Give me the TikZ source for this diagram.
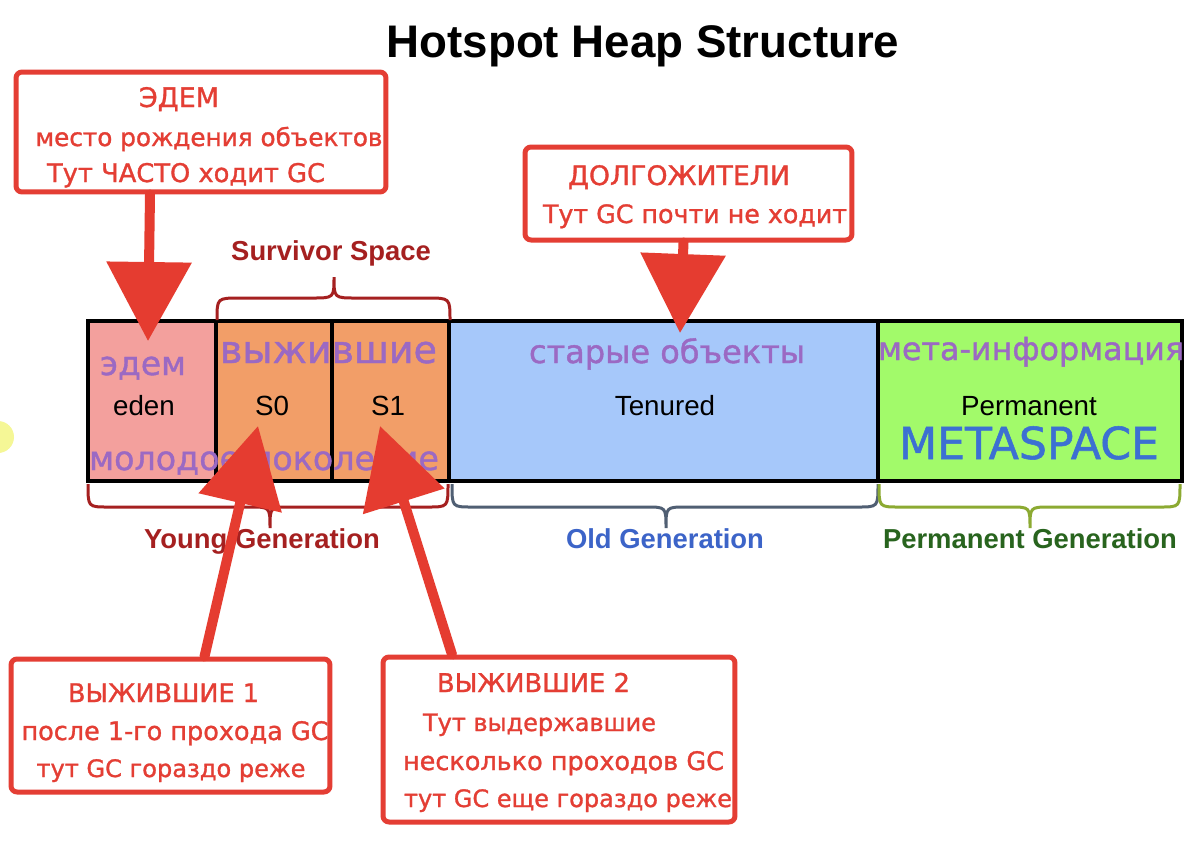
\documentclass[tikz,border=0pt]{standalone}
\usepackage{fontspec}
\setmainfont{Liberation Sans}
\newfontfamily\handfont[FakeBold=1.2]{DejaVu Sans}
\usepackage{graphicx}
\usetikzlibrary{arrows.meta,calc}
\newlength\pu
\setlength\pu{0.02cm}
\newcommand\fitw[2]{\resizebox{#1\pu}{!}{#2}}
\definecolor{arrred}{RGB}{229,60,48}
\definecolor{boxred}{RGB}{228,62,52}
\definecolor{handpurple}{RGB}{155,105,195}
\definecolor{metablue}{RGB}{60,112,210}
\definecolor{edenfill}{RGB}{243,160,157}
\definecolor{survfill}{RGB}{242,158,104}
\definecolor{tenfill}{RGB}{166,200,250}
\definecolor{permfill}{RGB}{162,250,106}
\definecolor{youngred}{RGB}{165,32,32}
\definecolor{oldbrace}{RGB}{80,95,115}
\definecolor{oldtext}{RGB}{60,100,200}
\definecolor{permbrace}{RGB}{140,170,50}
\definecolor{permtext}{RGB}{40,100,30}
\definecolor{blob}{RGB}{245,247,150}
\tikzset{
  cell/.style={draw=black, line width=0.08cm, inner sep=0pt, outer sep=0pt, minimum height=3.2cm},
  lbl/.style={anchor=base, inner sep=0pt, font=\fontsize{15.8}{18}\selectfont},
  bracelbl/.style={anchor=base, inner sep=0pt, font=\bfseries\fontsize{15.6}{18}\selectfont},
  hand/.style={anchor=base, inner sep=0pt, text=handpurple, font=\handfont},
  redtxt/.style={anchor=base, inner sep=0pt, text=boxred, font=\handfont},
  notebox/.style={draw=boxred, line width=0.1cm, rounded corners=0.12cm, inner sep=0pt, fill=white},
  bracepath/.style={line width=0.06cm},
  bigarrow/.style={draw=arrred, line width=0.2cm, line cap=round, -{Triangle[width=1.66cm,length=1.58cm]}}
}
\begin{document}
\begin{tikzpicture}[x=0.02cm,y=-0.02cm]
\useasboundingbox (0,0) rectangle (1197,840);
\fill[white] (0,0) rectangle (1197,840);
\fill[blob] (-2,437) circle (16);

% title
\node[anchor=base, inner sep=0pt, font=\bfseries\fontsize{26}{30}\selectfont] (title) at (643,57) {Hotspot Heap Structure};

% heap bar
\node[cell, fill=edenfill, minimum width=2.56cm] (eden) at (152,401) {};
\node[cell, fill=survfill, minimum width=2.32cm] (s0) at (274,401) {};
\node[cell, fill=survfill, minimum width=2.34cm] (s1) at (390.5,401) {};
\node[cell, fill=tenfill, minimum width=8.58cm] (ten) at (663.5,401) {};
\node[cell, fill=permfill, minimum width=6.08cm] (perm) at (1030,401) {};

\node[lbl] (edenl) at (144,415) {eden};
\node[lbl] (s0l) at (272,415) {S0};
\node[lbl] (s1l) at (388,415) {S1};
\node[lbl] (tenl) at (665,415) {Tenured};
\node[lbl] (perml) at (1029,415) {Permanent};

% purple handwritten notes
\node[hand] (h1) at (143,375) {\fitw{86}{эдем}};
\node[hand] (h2) at (328.5,363) {\fitw{217}{выжившие}};
\node[hand] (h3) at (264,470) {\fitw{350}{молодое поколение}};
\node[hand] (h4) at (667,363) {\fitw{276}{старые объекты}};
\node[hand] (h5) at (1031,360) {\fitw{306}{мета-информация}};
\node[hand, text=metablue] (h6) at (1029,459) {\fitw{260}{METASPACE}};

% braces
\draw[bracepath, youngred] (217,320) .. controls (217,298) .. (240,298) -- (312,298) .. controls (334,298) .. (334,277) .. controls (334,298) .. (356,298) -- (427,298) .. controls (450,298) .. (450,320);
\draw[bracepath, youngred] (88,484) .. controls (88,507) .. (108,507) -- (250,507) .. controls (270,507) .. (270,528) .. controls (270,507) .. (290,507) -- (428,507) .. controls (448,507) .. (448,484);
\draw[bracepath, oldbrace] (452,484) .. controls (452,507) .. (472,507) -- (646,507) .. controls (666,507) .. (666,528) .. controls (666,507) .. (686,507) -- (858,507) .. controls (878,507) .. (878,484);
\draw[bracepath, permbrace] (879,484) .. controls (879,507) .. (899,507) -- (1010,507) .. controls (1030,507) .. (1030,528) .. controls (1030,507) .. (1050,507) -- (1160,507) .. controls (1180,507) .. (1180,484);

\node[bracelbl, text=youngred] (survl) at (331,260) {Survivor Space};
\node[bracelbl, text=youngred] (youngl) at (262,548) {Young Generation};
\node[bracelbl, text=oldtext] (oldl) at (665,548) {Old Generation};
\node[bracelbl, text=permtext] (permgl) at (1030,548) {Permanent Generation};

% note boxes
\node[notebox, minimum width=7.4cm, minimum height=2.4cm] (b1) at (201,132) {};
\node[redtxt] (b1a) at (179,107) {\fitw{80}{ЭДЕМ}};
\node[redtxt] (b1b) at (209,146) {\fitw{347}{место рождения объектов}};
\node[redtxt] (b1c) at (186,182) {\fitw{278}{Тут ЧАСТО ходит GC}};

\node[notebox, minimum width=6.54cm, minimum height=1.86cm] (b2) at (688.5,193.5) {};
\node[redtxt] (b2a) at (679,185) {\fitw{222}{ДОЛГОЖИТЕЛИ}};
\node[redtxt] (b2b) at (695,223) {\fitw{304}{Тут GC почти не ходит}};

\node[notebox, minimum width=6.38cm, minimum height=2.66cm] (b3) at (170.5,725.5) {};
\node[redtxt] (b3a) at (163.5,702) {\fitw{191}{ВЫЖИВШИЕ 1}};
\node[redtxt] (b3b) at (175,740) {\fitw{307}{после 1-го прохода GC}};
\node[redtxt] (b3c) at (171,777) {\fitw{269}{тут GC гораздо реже}};

\node[notebox, minimum width=7.04cm, minimum height=3.3cm] (b4) at (559,739.5) {};
\node[redtxt] (b4a) at (533.5,692) {\fitw{193}{ВЫЖИВШИЕ 2}};
\node[redtxt] (b4b) at (539.5,731) {\fitw{233}{Тут выдержавшие}};
\node[redtxt] (b4c) at (563.5,770) {\fitw{321}{несколько проходов GC}};
\node[redtxt] (b4d) at (568,807) {\fitw{328}{тут GC еще гораздо реже}};

% arrow targets
\coordinate (tEden) at (148,341);
\coordinate (tTen) at (680,333);
\coordinate (tS0) at (258,426);
\coordinate (tS1) at (380,426);

\draw[bigarrow] ($(b1.south)+(-51,0)$) -- (tEden);
\draw[bigarrow] ($(b2.south)+(-5,0)$) -- (tTen);
\draw[bigarrow] ($(b3.north)+(34,0)$) -- (tS0);
\draw[bigarrow] ($(b4.north)+(-107,0)$) -- (tS1);
\end{tikzpicture}
\end{document}
